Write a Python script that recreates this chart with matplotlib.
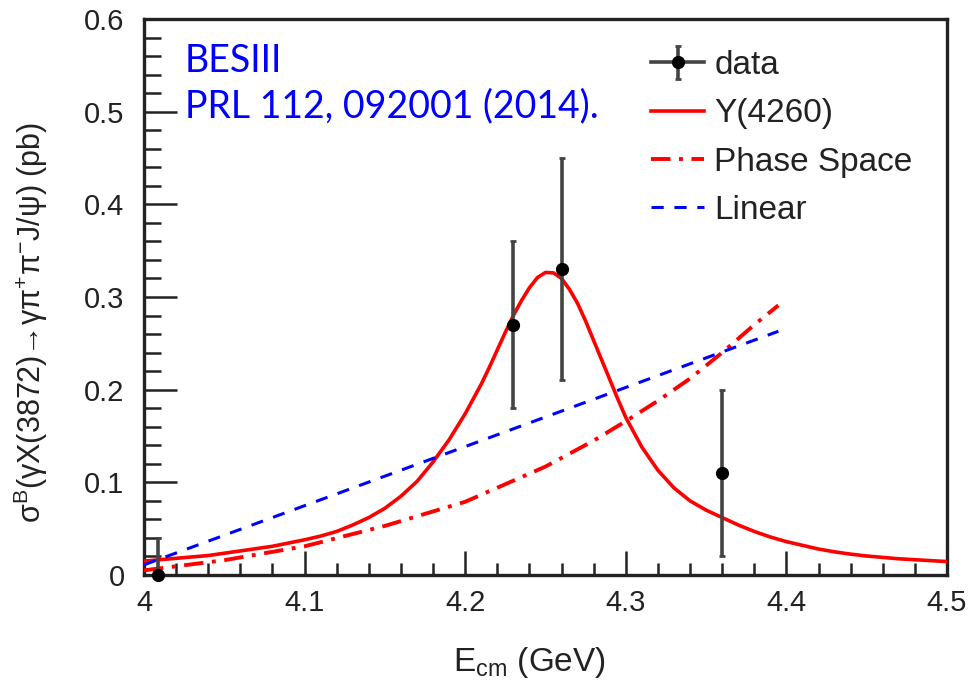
import matplotlib
matplotlib.use("Agg")
import matplotlib.pyplot as plt
from matplotlib.ticker import MultipleLocator
from matplotlib.lines import Line2D
from matplotlib.legend_handler import HandlerTuple

plt.rcParams['font.family'] = ['Liberation Sans', 'DejaVu Sans']
plt.rcParams['mathtext.fontset'] = 'custom'
plt.rcParams['mathtext.rm'] = 'Liberation Sans'
plt.rcParams['mathtext.it'] = 'Liberation Sans:italic'
plt.rcParams['mathtext.default'] = 'regular'

# data points
data_x = [4.009, 4.23, 4.26, 4.36]
data_y = [0.0, 0.27, 0.33, 0.11]
err_lo = [0.0, 0.09, 0.12, 0.09]
err_hi = [0.04, 0.09, 0.12, 0.09]

# Y(4260) fit curve
y4260_x = [4.00, 4.02, 4.04, 4.06, 4.08, 4.10, 4.11, 4.12, 4.13, 4.14, 4.15, 4.16, 4.17, 4.18,
           4.19, 4.20, 4.205, 4.21, 4.215, 4.22, 4.225, 4.23, 4.235, 4.24, 4.245, 4.25,
           4.255, 4.26, 4.265, 4.27, 4.275, 4.28, 4.285, 4.29, 4.295, 4.30, 4.31, 4.32,
           4.33, 4.34, 4.35, 4.36, 4.37, 4.38, 4.39, 4.40, 4.41, 4.42, 4.43, 4.44, 4.45,
           4.47, 4.50]
y4260_y = [0.015, 0.018, 0.021, 0.026, 0.031, 0.038, 0.042, 0.047, 0.054, 0.062, 0.072, 0.085,
           0.101, 0.122, 0.146, 0.174, 0.190, 0.206, 0.224, 0.243, 0.262, 0.280, 0.296,
           0.310, 0.321, 0.3265, 0.326, 0.320, 0.308, 0.293, 0.274, 0.253, 0.232, 0.211,
           0.190, 0.170, 0.138, 0.113, 0.094, 0.080, 0.070, 0.062, 0.054, 0.047, 0.041,
           0.036, 0.032, 0.028, 0.025, 0.0225, 0.0205, 0.0175, 0.0145]

# phase space curve
ps_x = [4.00, 4.05, 4.10, 4.15, 4.20, 4.25, 4.28, 4.30, 4.32, 4.34, 4.36, 4.38, 4.395]
ps_y = [0.005, 0.016, 0.031, 0.053, 0.079, 0.117, 0.145, 0.166, 0.188, 0.212, 0.240, 0.270, 0.291]

# linear curve
lin_x = [4.00, 4.395]
lin_y = [0.011, 0.263]

fig = plt.figure(figsize=(9.71, 6.82), dpi=100)
ax = fig.add_axes([144/971, 1-575/682, 803/971, 556/682])

ax.plot(y4260_x, y4260_y, color='#ff0000', lw=2.6, label='Y(4260)', zorder=3)
ax.plot(ps_x, ps_y, color='#ff0000', lw=2.8, ls=(0, (5, 2.2, 1, 2.2)), label='Phase Space', zorder=3)
ax.plot(lin_x, lin_y, color='#0000ff', lw=2.2, ls=(0, (4, 3.5)), label='Linear', zorder=3)
eb = ax.errorbar(data_x, data_y, yerr=[err_lo, err_hi], fmt='o', color='black', ecolor='#444444',
                 elinewidth=2.6, capsize=2.5, capthick=2, markersize=8.5, label='data', zorder=4,
                 clip_on=False)

ax.set_xlim(4.0, 4.5)
ax.set_ylim(0.0, 0.6)
ax.xaxis.set_minor_locator(MultipleLocator(0.02))
ax.yaxis.set_minor_locator(MultipleLocator(0.02))
ax.set_xticks([4.0, 4.1, 4.2, 4.3, 4.4, 4.5])
ax.set_xticklabels(['4', '4.1', '4.2', '4.3', '4.4', '4.5'])
ax.set_yticks([0, 0.1, 0.2, 0.3, 0.4, 0.5, 0.6])
ax.set_yticklabels(['0', '0.1', '0.2', '0.3', '0.4', '0.5', '0.6'])

ax.tick_params(axis='both', which='both', direction='in', top=False, right=False,
               labelsize=21, colors='#222222')
ax.tick_params(axis='y', which='major', length=24, width=1.8, pad=14)
ax.tick_params(axis='y', which='minor', length=12, width=1.8)
ax.tick_params(axis='x', which='major', length=17, width=1.8, pad=10)
ax.tick_params(axis='x', which='minor', length=9, width=1.8)
for s in ax.spines.values():
    s.set_linewidth(2.4)
    s.set_color('#222222')

ax.set_xlabel(r'E$_{\rm cm}$ (GeV)', fontsize=24, color='#222222')
ax.xaxis.set_label_coords(0.48, -0.125)
ax.set_ylabel('σ$^{B}$(γX(3872)→γπ$^{+}$π$^{-}$J/ψ) (pb)', fontsize=22, color='#222222')
ax.yaxis.set_label_coords(-0.117, 0.455)

ax.text((185-144)/803, (575-72)/556, 'BESIII', transform=ax.transAxes, color='#0000ff',
        fontsize=27, family=['Lato', 'DejaVu Sans'], va='baseline', ha='left')
ax.text((185-144)/803, (575-117)/556, 'PRL 112, 092001 (2014).', transform=ax.transAxes,
        color='#0000ff', fontsize=27, family=['Lato', 'DejaVu Sans'], va='baseline', ha='left')

h, l = ax.get_legend_handles_labels()
hline = Line2D([], [], color='#444444', lw=2.6)
handles = [(hline, h[l.index('data')]), h[l.index('Y(4260)')], h[l.index('Phase Space')],
           h[l.index('Linear')]]
labels = ['data', 'Y(4260)', 'Phase Space', 'Linear']
leg = ax.legend(handles, labels, loc='upper left', bbox_to_anchor=(0.594, 0.998),
                frameon=False, fontsize=24, handlelength=1.6, handletextpad=0.3,
                labelspacing=0.52, handler_map={tuple: HandlerTuple(ndivide=1)})
for t in leg.get_texts():
    t.set_color('#222222')

fig.savefig('out.png', dpi=100)
